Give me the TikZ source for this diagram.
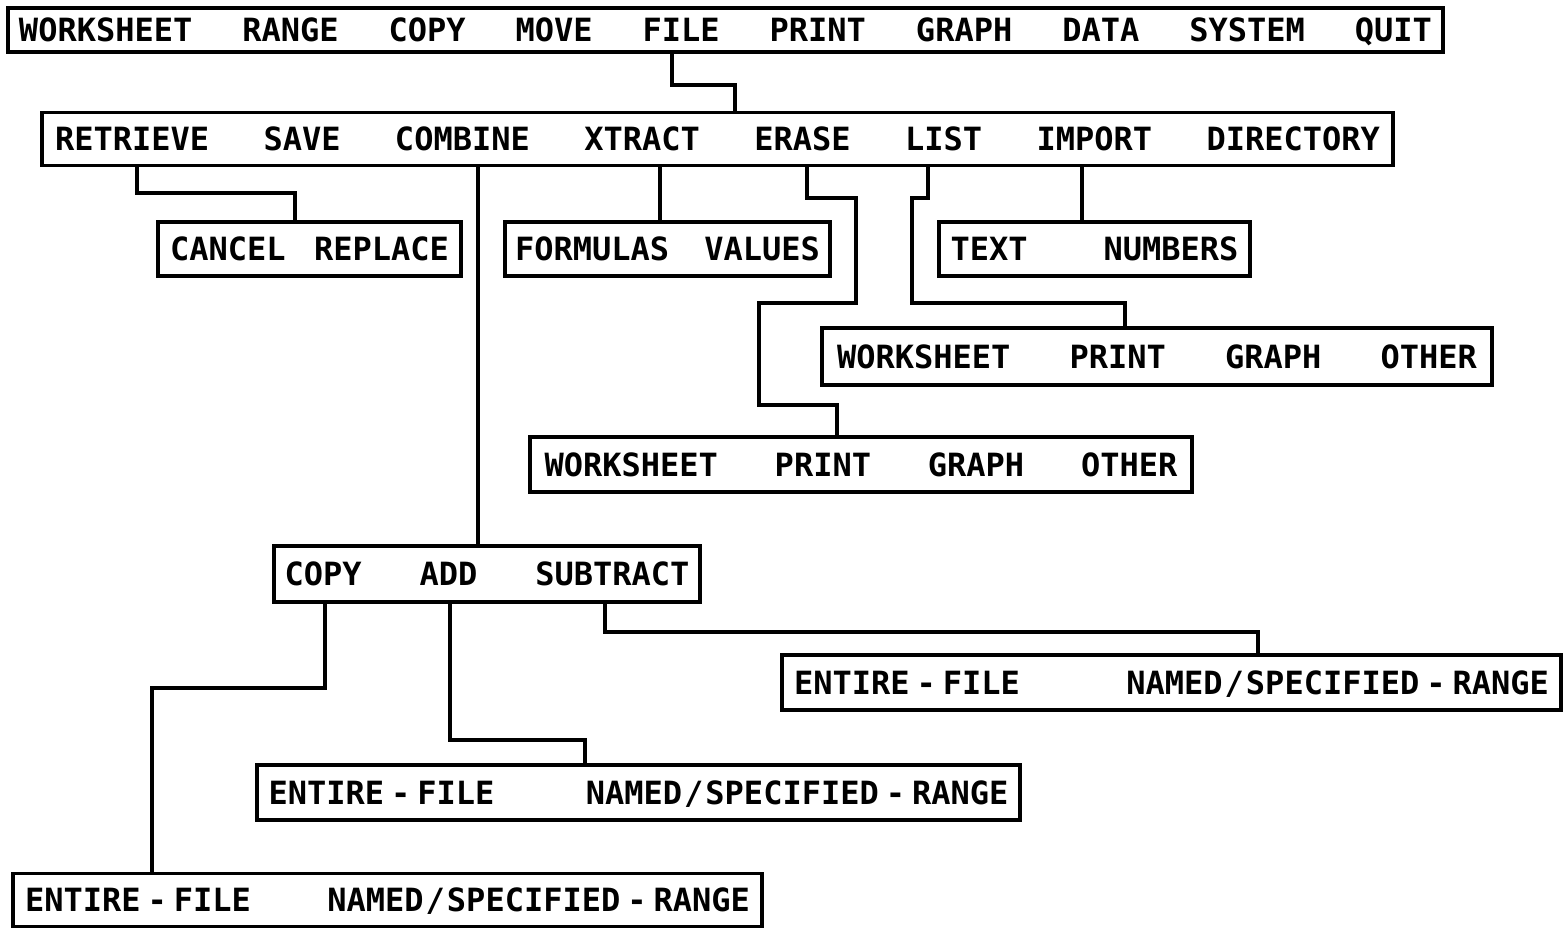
\documentclass[tikz,border=0pt]{standalone}
\usepackage{fontspec}
\newfontfamily\pixfont{DejaVu Sans Mono}
\newcommand\spreadtext[2]{\hbox to #1pt{#2}}
\newcommand\myhy{\kern7pt-\kern7pt}
\newcommand\mysl{\kern2pt/\kern2pt}
\begin{document}
\begin{tikzpicture}[x=1pt,y=-1pt,
  mbox/.style={draw, line width=3.5pt, inner sep=0pt, text height=23pt, text depth=0pt,
    font=\pixfont\bfseries\fontsize{32}{32}\selectfont},
  link/.style={line width=3.5pt}]
\useasboundingbox (0,0) rectangle (1567,929);
\fill[white] (0,0) rectangle (1567,929);
% boxes
\node[mbox, minimum width=1435pt, minimum height=44pt] (top) at (725.5,30)
  {\spreadtext{1413}{WORKSHEET\hfill RANGE\hfill COPY\hfill MOVE\hfill FILE\hfill PRINT\hfill GRAPH\hfill DATA\hfill SYSTEM\hfill QUIT}};
\node[mbox, minimum width=1351pt, minimum height=53pt] (file) at (717.5,139)
  {\spreadtext{1325}{RETRIEVE\hfill SAVE\hfill COMBINE\hfill XTRACT\hfill ERASE\hfill LIST\hfill IMPORT\hfill DIRECTORY}};
\node[mbox, minimum width=303pt, minimum height=54pt] (cancel) at (309.5,249)
  {\spreadtext{279}{CANCEL\hfill REPLACE}};
\node[mbox, minimum width=325pt, minimum height=54pt] (formulas) at (667.5,249)
  {\spreadtext{305}{FORMULAS\hfill VALUES}};
\node[mbox, minimum width=311pt, minimum height=54pt] (textnum) at (1094.5,249)
  {\spreadtext{288}{TEXT\hfill NUMBERS}};
\node[mbox, minimum width=670pt, minimum height=57pt] (listsub) at (1157,356.5)
  {\spreadtext{640}{WORKSHEET\hfill PRINT\hfill GRAPH\hfill OTHER}};
\node[mbox, minimum width=662pt, minimum height=55pt] (erasesub) at (861,464.5)
  {\spreadtext{633}{WORKSHEET\hfill PRINT\hfill GRAPH\hfill OTHER}};
\node[mbox, minimum width=426pt, minimum height=56pt] (combine) at (487,574)
  {\spreadtext{405}{COPY\hfill ADD\hfill SUBTRACT}};
\node[mbox, minimum width=779pt, minimum height=55pt] (subent) at (1171.5,682.5)
  {\spreadtext{755}{ENTIRE\myhy FILE\hfill NAMED\mysl SPECIFIED\myhy RANGE}};
\node[mbox, minimum width=763pt, minimum height=55pt] (addent) at (638.5,792.5)
  {\spreadtext{740}{ENTIRE\myhy FILE\hfill NAMED\mysl SPECIFIED\myhy RANGE}};
\node[mbox, minimum width=749pt, minimum height=53pt] (copyent) at (387.5,900)
  {\spreadtext{725}{ENTIRE\myhy FILE\hfill NAMED\mysl SPECIFIED\myhy RANGE}};
% connectors
\draw[link] (672,0 |- top.south) |- (735,85) -- (735,0 |- file.north);
\draw[link] (137,0 |- file.south) |- (295,193) -- (295,0 |- cancel.north);
\draw[link] (478,0 |- file.south) -- (478,0 |- combine.north);
\draw[link] (660,0 |- file.south) -- (660,0 |- formulas.north);
\draw[link] (807,0 |- file.south) |- (856,198) |- (759,303) |- (837,405) -- (837,0 |- erasesub.north);
\draw[link] (928,0 |- file.south) |- (912,198) |- (1125,303) -- (1125,0 |- listsub.north);
\draw[link] (1082,0 |- file.south) -- (1082,0 |- textnum.north);
\draw[link] (325,0 |- combine.south) |- (152,688) -- (152,0 |- copyent.north);
\draw[link] (450,0 |- combine.south) |- (585,740) -- (585,0 |- addent.north);
\draw[link] (605,0 |- combine.south) |- (1258,632) -- (1258,0 |- subent.north);
\end{tikzpicture}
\end{document}
